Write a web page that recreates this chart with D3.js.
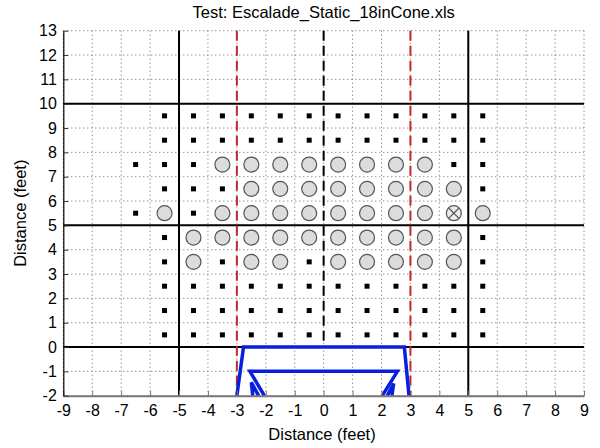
<!DOCTYPE html>
<html lang="en">
<head>
	<meta charset="utf-8">
	<script src="https://d3js.org/d3.v7.min.js"></script>
	<style type="text/css">
		body {
			margin: 0;
			background: #fff;
			font-family: "Liberation Sans", Arial, sans-serif;
		}
		.tick text {
			font-size: 16px;
			fill: #000;
		}
	</style>
</head>
<body>
	<svg id="chart" width="600" height="448"></svg>
	<script type="text/javascript">
		// test grid: columns (feet) and rows (feet)
		var columns = [-6.5, -5.5, -4.5, -3.5, -2.5, -1.5, -0.5, 0.5, 1.5, 2.5, 3.5, 4.5, 5.5];
		var rows = [9.5, 8.5, 7.5, 6.5, 5.5, 4.5, 3.5, 2.5, 1.5, 0.5];
		// s = no detection (square), o = detection (circle), x = crossed circle, - = not tested
		var results = [
			"-ssssssssssss",
			"-ssssssssssss",
			"sssooooooooss",
			"-sssoooooooos",
			"sosooooooooxo",
			"-soooooooooos",
			"-sosoosooooos",
			"-ssssssssssss",
			"-ssssssssssss",
			"-ssssssssssss"
		];

		var xTicks = d3.range(-9, 10, 1);
		var yTicks = d3.range(-2, 14, 1);
		var solidX = [-5, 5];
		var solidY = [0, 5, 10];
		var redDashX = [-3, 3];
		var blackDashX = [0];

		// vehicle outline (blue)
		var vehicle = [
			[[-3.0, -2], [-2.77, 0], [2.79, 0], [2.95, -2]],
			[[-2.05, -2], [-2.55, -1], [2.55, -1], [2.03, -2]],
			[[-2.45, -2], [-2.5, -1.45], [-2.25, -2]],
			[[2.2, -2], [2.42, -1.5], [2.36, -2]]
		];

		var title = "Test: Escalade_Static_18inCone.xls";
		var xLabel = "Distance (feet)";
		var yLabel = "Distance (feet)";

		var svg = d3.select("#chart");

		var x = d3.scaleLinear().domain([-9, 9]).range([63.3, 584]);
		var y = d3.scaleLinear().domain([-2, 13]).range([395.7, 30.7]);

		// dotted grid
		var grid = svg.append("g");
		grid.selectAll("line.gx")
			.data(xTicks)
			.enter()
			.append("line")
			.attr("x1", d => x(d)).attr("x2", d => x(d))
			.attr("y1", y(-2)).attr("y2", y(13))
			.style("stroke", "#666")
			.style("stroke-width", 1)
			.style("stroke-dasharray", "1,3");
		grid.selectAll("line.gy")
			.data(yTicks)
			.enter()
			.append("line")
			.attr("y1", d => y(d)).attr("y2", d => y(d))
			.attr("x1", x(-9)).attr("x2", x(9))
			.style("stroke", "#666")
			.style("stroke-width", 1)
			.style("stroke-dasharray", "1,3");

		// solid black lines
		svg.selectAll("line.sx")
			.data(solidX)
			.enter()
			.append("line")
			.attr("x1", d => x(d)).attr("x2", d => x(d))
			.attr("y1", y(-2)).attr("y2", y(13))
			.style("stroke", "#000")
			.style("stroke-width", 2);
		svg.selectAll("line.sy")
			.data(solidY)
			.enter()
			.append("line")
			.attr("y1", d => y(d)).attr("y2", d => y(d))
			.attr("x1", x(-9)).attr("x2", x(9))
			.style("stroke", "#000")
			.style("stroke-width", 2);

		// dashed lines
		svg.selectAll("line.rd")
			.data(redDashX)
			.enter()
			.append("line")
			.attr("x1", d => x(d)).attr("x2", d => x(d))
			.attr("y1", y(13)).attr("y2", y(-2))
			.style("stroke", "#c0282a")
			.style("stroke-width", 2)
			.style("stroke-dasharray", "10,5");
		svg.selectAll("line.bd")
			.data(blackDashX)
			.enter()
			.append("line")
			.attr("x1", d => x(d)).attr("x2", d => x(d))
			.attr("y1", y(13)).attr("y2", y(0))
			.style("stroke", "#000")
			.style("stroke-width", 2)
			.style("stroke-dasharray", "10,5");

		// vehicle
		var line = d3.line().x(d => x(d[0])).y(d => y(d[1]));
		svg.selectAll("path.veh")
			.data(vehicle)
			.enter()
			.append("path")
			.attr("d", line)
			.style("fill", "none")
			.style("stroke", "#0a1ee0")
			.style("stroke-width", 3.5)
			.style("stroke-linejoin", "miter");

		// points
		var points = [];
		rows.forEach(function (r, i) {
			columns.forEach(function (c, j) {
				var code = results[i].charAt(j);
				if (code != "-") points.push({ x: c, y: r, code: code });
			});
		});

		svg.selectAll("rect.sq")
			.data(points.filter(d => d.code == "s"))
			.enter()
			.append("rect")
			.attr("x", d => x(d.x) - 2.5)
			.attr("y", d => y(d.y) - 2.5)
			.attr("width", 5)
			.attr("height", 5)
			.style("fill", "#000");

		svg.selectAll("circle.det")
			.data(points.filter(d => d.code != "s"))
			.enter()
			.append("circle")
			.attr("cx", d => x(d.x))
			.attr("cy", d => y(d.y))
			.attr("r", 7.5)
			.style("fill", d => d.code == "x" ? "#ececec" : "#dcdcdc")
			.style("stroke", "#555")
			.style("stroke-width", 1.2);

		var crossed = points.filter(d => d.code == "x");
		crossed.forEach(function (d) {
			var k = 5.2;
			[[-1, -1, 1, 1], [-1, 1, 1, -1]].forEach(function (s) {
				svg.append("line")
					.attr("x1", x(d.x) + s[0] * k).attr("y1", y(d.y) + s[1] * k)
					.attr("x2", x(d.x) + s[2] * k).attr("y2", y(d.y) + s[3] * k)
					.style("stroke", "#555")
					.style("stroke-width", 1.2);
			});
		});

		// axes (plain hyphen for negatives, like the original)
		var fmt = d => String(d);
		var xAxis = d3.axisBottom(x).tickValues(xTicks).tickFormat(fmt).tickSizeInner(-5).tickSizeOuter(0).tickPadding(8.5);
		var yAxis = d3.axisLeft(y).tickValues(yTicks).tickFormat(fmt).tickSizeInner(-5).tickSizeOuter(0).tickPadding(6.5);

		var gx = svg.append("g")
			.attr("transform", "translate(0," + y(-2) + ")")
			.call(xAxis);
		gx.select(".domain").style("stroke", "#777").style("stroke-width", 2);
		gx.selectAll(".tick line").style("stroke", "#777");
		gx.selectAll("text").style("font-family", "Liberation Sans, Arial, sans-serif");

		var gy = svg.append("g")
			.attr("transform", "translate(" + x(-9) + ",0)")
			.call(yAxis);
		gy.select(".domain").style("stroke", "#000").style("stroke-width", 1.2);
		gy.selectAll(".tick line").style("stroke", "#333");
		gy.selectAll("text").style("font-family", "Liberation Sans, Arial, sans-serif");

		// labels
		svg.append("text")
			.attr("x", (x(-9) + x(9)) / 2)
			.attr("y", 18.3)
			.attr("text-anchor", "middle")
			.attr("font-size", "16.5px")
			.text(title);
		svg.append("text")
			.attr("x", 322)
			.attr("y", 440)
			.attr("text-anchor", "middle")
			.attr("font-size", "16.5px")
			.text(xLabel);
		svg.append("text")
			.attr("transform", "translate(26," + (y(-2) + y(13)) / 2 + ") rotate(-90)")
			.attr("text-anchor", "middle")
			.attr("font-size", "16.5px")
			.text(yLabel);
	</script>
</body>
</html>
